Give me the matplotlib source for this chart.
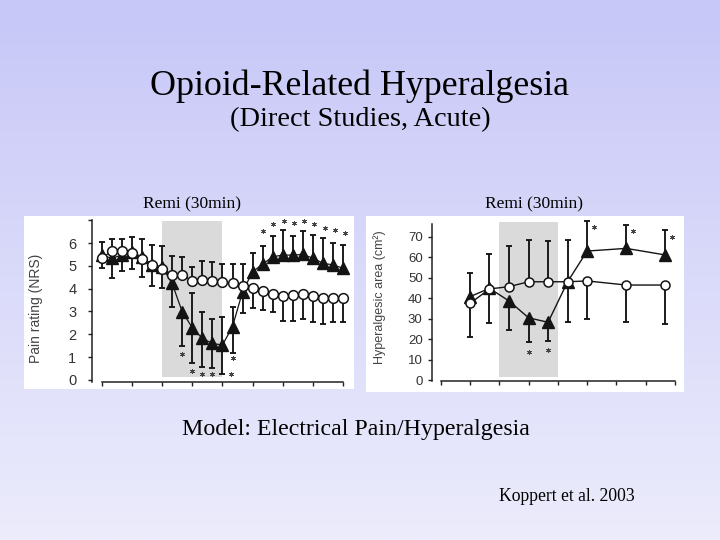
import numpy as np
import matplotlib
matplotlib.use("Agg")
import matplotlib.pyplot as plt
from matplotlib.patches import Rectangle

nan = np.nan

# Pain rating (left panel), time in minutes
t_left = [0, 5, 10, 15, 20, 25, 30, 35, 40, 45, 50, 55, 60,
          65, 70, 75, 80, 85, 90, 95, 100, 105, 110, 115, 120]
circ_left = [5.33, 5.65, 5.65, 5.55, 5.30, 5.04, 4.86, 4.60, 4.60, 4.35, 4.38, 4.35, 4.30,
             4.23, 4.13, 4.01, 3.90, 3.76, 3.69, 3.72, 3.75, 3.69, 3.58, 3.58, 3.61]
tri_left = [5.47, 5.33, 5.47, 5.59, 5.40, 5.04, 4.96, 4.23, 2.99, 2.29, 1.82, 1.60, 1.53,
            2.34, 3.87, 4.74, 5.08, 5.40, 5.47, 5.47, 5.50, 5.33, 5.11, 5.04, 4.89]
# ends of the visible error bars (nan = hidden)
tri_left_hi = [6.06, 6.18, 6.16, 6.28, 6.18, 5.91, 5.88, nan, nan, 3.80, 2.99, 2.67, 2.77,
               3.21, nan, 5.55, 5.88, 6.31, 6.57, 6.31, 6.54, 6.35, 6.23, 5.99, 5.91]
tri_left_lo = [nan, 4.45, nan, nan, nan, 4.13, 4.04, 3.21, 1.49, 0.76, 0.58, 0.54, 0.25,
               1.17, 2.92, nan, nan, nan, nan, nan, nan, nan, nan, nan, nan]
circ_left_hi = [nan, nan, nan, nan, nan, nan, nan, 5.45, 5.37, 4.93, 5.23, 5.15, 5.10,
                5.10, 5.10, nan, nan, nan, nan, nan, nan, nan, nan, nan, nan]
circ_left_lo = [4.89, nan, 4.77, 4.86, 4.53, nan, nan, nan, nan, nan, nan, nan, nan,
                nan, nan, 3.17, 3.07, 2.99, 2.58, 2.58, 2.67, 2.53, 2.44, 2.53, 2.53]
star_left_x = [40, 45, 50, 55, 64, 65, 80.3, 85.2, 90.6, 95.5, 100.7, 105.6, 110.9, 115.9, 120.9]
star_left_y = [1.14, 0.39, 0.25, 0.25, 0.25, 0.98, 6.53, 6.82, 6.96, 6.86, 6.96, 6.82, 6.67, 6.57, 6.42]

# Hyperalgesic area (right panel)
t_right = [15, 25, 35, 45, 55, 65, 75, 95, 115]
circ_right = [37.4, 44.5, 45.6, 48.0, 48.0, 48.0, 48.4, 46.4, 46.4]
tri_right = [40.7, 44.8, 38.6, 30.4, 28.2, 48.0, 63.0, 64.3, 61.1]
tri_right_hi = [52.4, 61.7, nan, nan, nan, 68.4, 77.7, 75.7, 73.3]
tri_right_lo = [nan, nan, 24.4, 18.7, 19.0, nan, nan, nan, nan]
circ_right_hi = [nan, nan, 65.6, 68.4, 68.0, nan, nan, nan, nan]
circ_right_lo = [21.2, 27.7, nan, nan, nan, 28.5, 29.8, 28.5, 27.2]
star_right_x = [45, 55, 78.4, 98.6, 118.7]
star_right_y = [13.8, 14.6, 74.6, 72.8, 70.0]

infusion = (30, 60)
ink = "#141414"
W, H = 720, 540


def bars(ax, x, y, ends, lw=1.35, capw=5):
    x = np.asarray(x, float)
    y = np.asarray(y, float)
    e = np.asarray(ends, float)
    m = ~np.isnan(e)
    ax.vlines(x[m], y[m], e[m], color=ink, lw=lw, zorder=2)
    ax.plot(x[m], e[m], ls="none", marker="_", ms=capw, mew=lw, color=ink, zorder=2)


def style(ax, ylo, yhi, xbase, size, pad):
    for s in ("top", "right"):
        ax.spines[s].set_visible(False)
    ax.spines["left"].set_bounds(ylo, yhi)
    ax.spines["bottom"].set_bounds(0, 120)
    ax.spines["bottom"].set_position(("data", xbase))
    for s in ("left", "bottom"):
        ax.spines[s].set_linewidth(1.1)
        ax.spines[s].set_color("#222222")
    ax.set_xticks(range(0, 121, 15))
    ax.set_xticklabels([])
    ax.tick_params(axis="both", direction="out", length=3, width=1, color="#222222",
                   labelsize=size, labelcolor="#333333")
    ax.tick_params(axis="y", pad=pad)
    ax.set_facecolor("none")


fig = plt.figure(figsize=(W / 100, H / 100), dpi=100)

# slide background with gradient
bg = fig.add_axes([0, 0, 1, 1], zorder=-10)
top = np.array([199, 199, 248]) / 255
bot = np.array([236, 236, 252]) / 255
grad = np.linspace(0, 1, 256)[:, None, None]
img = top + (bot - top) * grad
bg.imshow(np.repeat(img, 2, axis=1), aspect="auto", extent=(0, W, H, 0))
bg.set_xlim(0, W)
bg.set_ylim(H, 0)
bg.axis("off")
bg.add_patch(Rectangle((24, 216), 330, 173, color="white", lw=0))
bg.add_patch(Rectangle((366, 216), 318, 176, color="white", lw=0))

serif = ["Liberation Serif", "DejaVu Serif"]
bg.text(360, 95, "Opioid-Related Hyperalgesia", family=serif, fontsize=25.8,
        ha="center", va="baseline", color="black")
bg.text(360, 126, "(Direct Studies, Acute)", family=serif, fontsize=20.4,
        ha="center", va="baseline", color="black")
bg.text(143, 208, "Remi (30min)", family=serif, fontsize=12.5, ha="left", va="baseline")
bg.text(485, 208, "Remi (30min)", family=serif, fontsize=12.5, ha="left", va="baseline")
bg.text(182, 435, "Model: Electrical Pain/Hyperalgesia", family=serif, fontsize=17.2,
        ha="left", va="baseline")
bg.text(499, 501, "Koppert et al. 2003", family=serif, fontsize=12.7, ha="left", va="baseline")

sans = ["Liberation Sans", "DejaVu Sans"]
plt.rcParams["font.family"] = sans

# left panel: pain rating
axl = fig.add_axes([91.6 / W, 1 - 386.8 / H, 259.7 / W, 168.9 / H])
axl.set_xlim(-5, 124)
axl.set_ylim(-0.3, 7.1)
axl.add_patch(Rectangle((infusion[0], 0.15), infusion[1] - infusion[0], 6.8,
                        color="#dadada", lw=0, zorder=0))
bars(axl, t_left, tri_left, tri_left_hi)
bars(axl, t_left, tri_left, tri_left_lo)
bars(axl, t_left, circ_left, circ_left_hi)
bars(axl, t_left, circ_left, circ_left_lo)
axl.plot(t_left, tri_left, color=ink, lw=0.9, marker="^", ms=8.5, mfc=ink, mec=ink, zorder=3)
axl.plot(t_left, circ_left, color=ink, lw=0.9, marker="o", ms=7, mfc="white", mec=ink,
         mew=1.1, zorder=4)
axl.plot(star_left_x, star_left_y, ls="none", marker=(6, 2, 0), ms=3.5, mew=0.6,
         color="#444444", zorder=4)
style(axl, -0.08, 7, -0.08, 10.5, 8)
axl.set_yticks(range(0, 8))
axl.set_yticklabels([str(v) for v in range(0, 7)] + [""])
axl.set_ylabel("Pain rating (NRS)", fontsize=10, color="#444444")
axl.yaxis.set_label_coords(-0.187, 0.464)

# right panel: hyperalgesic area
axr = fig.add_axes([431.7 / W, 1 - 384.1 / H, 251.1 / W, 165.8 / H])
axr.set_xlim(-4.6, 124)
axr.set_ylim(-2, 79)
axr.add_patch(Rectangle((infusion[0], 1.5), infusion[1] - infusion[0], 75.5,
                        color="#dadada", lw=0, zorder=0))
bars(axr, t_right, tri_right, tri_right_hi)
bars(axr, t_right, tri_right, tri_right_lo)
bars(axr, t_right, circ_right, circ_right_hi)
bars(axr, t_right, circ_right, circ_right_lo)
axr.plot(t_right, tri_right, color=ink, lw=1.0, marker="^", ms=8.5, mfc=ink, mec=ink, zorder=3)
axr.plot(t_right, circ_right, color=ink, lw=1.0, marker="o", ms=6.5, mfc="white", mec=ink,
         mew=1.1, zorder=4)
axr.plot(star_right_x, star_right_y, ls="none", marker=(6, 2, 0), ms=3.5, mew=0.6,
         color="#444444", zorder=4)
style(axr, -0.6, 76, -0.6, 9.5, 3.5)
axr.set_yticks(range(0, 71, 10))
axr.set_ylabel("Hyperalgesic area (cm²)", fontsize=9, color="#444444")
axr.yaxis.set_label_coords(-0.182, 0.522)

fig.savefig("out.png", dpi=100)
